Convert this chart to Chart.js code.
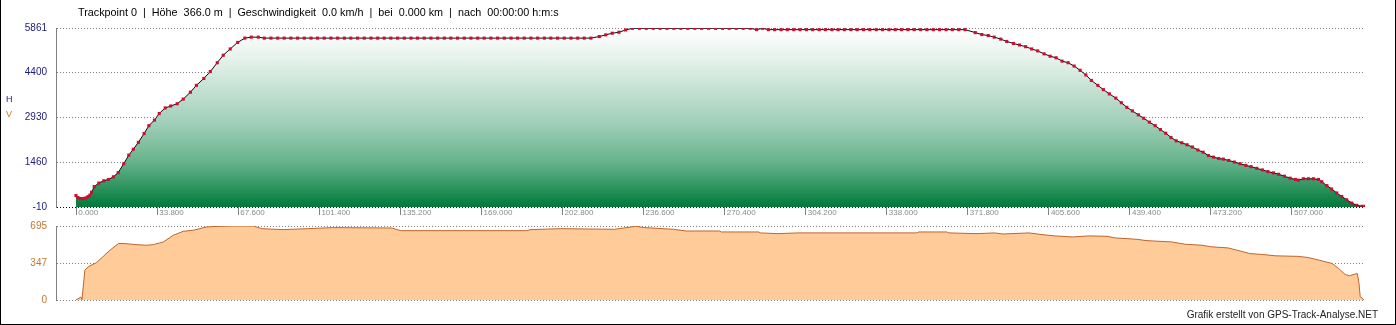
<!DOCTYPE html>
<html>
<head>
<meta charset="utf-8">
<script src="https://cdn.jsdelivr.net/npm/chart.js@4.4.0/dist/chart.umd.min.js"></script>
<style>
body { margin: 0; background: #fff; }
#rahmen { position: relative; width: 1396px; height: 325px; overflow: hidden; }
#hoehe { position: absolute; left: 0; top: 0; }
#tempo { position: absolute; left: 0; top: 210px; }
#kante { position: absolute; left: 0; top: 0; width: 1396px; height: 325px; box-sizing: border-box;
         border: 1px solid #000; border-top: none; pointer-events: none; }
</style>
</head>
<body>
<div id="rahmen">
  <canvas id="hoehe" width="1396" height="222"></canvas>
  <canvas id="tempo" width="1396" height="115"></canvas>
  <div id="kante"></div>
</div>
<script>
// Hoehenprofil: Distanz (km) und Hoehe (m) je Trackpoint
var hoeheKm = [
  0, 0.8, 1.7, 2.5, 3.3, 4.2, 5.0, 5.8,
  6.5, 7.6, 9.5, 11.6, 13.5, 15.6, 17.6, 19.9, 22.0, 23.9,
  26.0, 28.4, 30.4, 32.7, 34.7, 37.2, 39.5, 42.2, 44.7, 47.7,
  50.2, 53.3, 56.0, 58.9, 61.4, 64.3, 67.4, 70.4, 73.1, 76.0, 78.5,
  81.3, 84.1, 86.8, 89.6, 92.4, 95.2, 98.0, 100.7, 103.5, 106.3,
  109.1, 111.9, 114.6, 117.4, 120.2, 123.0, 125.8, 128.5, 131.3, 134.1,
  136.9, 139.7, 142.4, 145.2, 148.0, 150.8, 153.6, 156.3, 159.1, 161.9,
  164.7, 167.5, 170.2, 173.0, 175.8, 178.6, 181.4, 184.1, 186.9, 189.7,
  192.5, 195.3, 198.0, 200.8, 203.6, 206.4, 209.2, 211.9, 214.7,
  218.2, 220.9, 223.6, 226.4, 229.2, 232.0,
  234.9, 237.8, 240.7, 243.6, 246.4, 249.3, 252.2, 255.1, 258.0, 260.9,
  263.8, 266.7, 269.6, 272.4, 275.3, 278.2, 281.1,
  283.8, 286.3, 288.7,
  291.3, 294.0, 296.6, 299.3, 301.9, 304.6, 307.2, 309.9, 312.5, 315.2,
  317.8, 320.4, 323.1, 325.7, 328.4, 331.0, 333.7, 336.3, 339.0, 341.6,
  344.2, 346.9, 349.5, 352.2, 354.8, 357.5, 360.1, 362.8, 365.4, 368.1, 370.7,
  375.0, 377.7, 380.4, 382.9, 385.6, 388.1, 390.9, 393.4, 396.0, 398.5,
  401.0, 403.7, 406.2, 408.7, 411.2, 413.7, 416.2, 418.7, 421.1, 423.4,
  426.1, 428.4, 430.9, 433.6, 435.9, 438.2, 440.5, 443.0, 445.2, 447.6,
  450.0, 452.2, 454.4, 456.6, 458.8, 461.1, 463.3, 465.5, 467.8, 470.0,
  472.2, 474.3, 476.5, 478.4, 480.7, 483.0, 485.4, 487.8, 490.0, 492.4,
  494.7, 497.0, 499.3, 501.5, 503.9, 506.3, 508.5, 509.7, 511.8, 513.9,
  516.0, 518.1, 519.5, 521.6, 523.6, 525.7, 527.8, 529.9, 532.0, 534.1,
  536.2, 537.5
];
var hoeheM = [
  366, 300, 270, 265, 270, 290, 330, 380,
  474, 658, 774, 851, 893, 980, 1119, 1409, 1690, 1884,
  2110, 2400, 2658, 2839, 3055, 3239, 3303, 3377, 3529, 3755,
  3980, 4206, 4432, 4722, 4968, 5174, 5387, 5529, 5561, 5561, 5529,
  5529, 5529, 5529, 5529, 5529, 5529, 5529, 5529, 5529, 5529,
  5529, 5529, 5529, 5529, 5529, 5529, 5529, 5529, 5529, 5529,
  5529, 5529, 5529, 5529, 5529, 5529, 5529, 5529, 5529, 5529,
  5529, 5529, 5529, 5529, 5529, 5529, 5529, 5529, 5529, 5529,
  5529, 5529, 5529, 5529, 5529, 5529, 5529, 5529, 5529,
  5581, 5636, 5690, 5722, 5797, 5851,
  5851, 5851, 5851, 5851, 5851, 5851, 5851, 5851, 5851, 5851,
  5851, 5851, 5851, 5851, 5851, 5851, 5851,
  5807, 5851, 5807,
  5807, 5807, 5807, 5807, 5807, 5807, 5807, 5807, 5807, 5807,
  5807, 5807, 5807, 5807, 5807, 5807, 5807, 5807, 5807, 5807,
  5807, 5807, 5807, 5807, 5807, 5807, 5807, 5807, 5807, 5807, 5807,
  5710, 5646, 5613, 5561, 5497, 5420, 5355, 5303, 5248, 5174,
  5110, 5013, 4936, 4884, 4774, 4722, 4613, 4474, 4322, 4142,
  3980, 3839, 3700, 3561, 3410, 3258, 3142, 3013, 2903, 2774,
  2658, 2529, 2410, 2271, 2161, 2097, 2032, 1958, 1861, 1787,
  1677, 1626, 1580, 1561, 1516, 1464, 1409, 1355, 1313, 1258,
  1206, 1151, 1109, 1064, 1000, 935, 893, 871, 916, 916,
  916, 893, 819, 690, 580, 451, 335, 226, 119, 45,
  13, 13
];

// Geschwindigkeitsprofil: Distanz (km) und Geschwindigkeit (km/h)
var tempoKm = [
  0, 2.0, 2.5, 3.7, 5.1, 8.6, 14.2, 17.7, 20.4, 25.0,
  29.5, 32.2, 36.4, 40.6, 44.7, 48.9, 54.5, 60.0, 65.6, 74.0,
  77.5, 86.3, 96.8, 107.3, 131.8, 135.3, 187.9, 189.7, 201.9, 224.7,
  233.4, 237.0, 249.2, 254.5, 268.4, 269.2, 284.6, 285.5, 292.7, 300.8,
  350.5, 351.4, 363.1, 364.0, 375.7, 383.0, 386.6, 397.4, 402.8, 408.2,
  415.5, 422.7, 429.9, 433.5, 442.5, 446.2, 457.0, 462.4, 469.6, 473.2,
  480.4, 484.1, 489.5, 494.9, 500.3, 509.4, 513.8, 518.4, 523.8, 526.5,
  529.2, 531.0, 534.3, 535.0, 535.5, 536.4, 537.0
];
var tempoKmh = [
  0, 28, 5, 280, 312, 352, 468, 530, 530, 520,
  514, 520, 545, 608, 645, 655, 686, 692, 695, 695,
  670, 661, 670, 680, 676, 651, 651, 661, 670, 664,
  692, 680, 664, 648, 648, 639, 639, 630, 623, 630,
  630, 639, 639, 630, 623, 630, 620, 630, 614, 602,
  592, 602, 598, 583, 570, 558, 545, 524, 514, 500,
  489, 468, 436, 427, 415, 410, 399, 374, 343, 296,
  240, 228, 249, 156, 31, 16, 0
];

var kmTicks = [0, 33.8, 67.6, 101.4, 135.2, 169, 202.8, 236.6, 270.4, 304.2, 338, 371.8, 405.6, 439.4, 473.2, 507];
var hoeheTicks = [-10, 1460, 2930, 4400, 5861];
var tempoTicks = [0, 347, 695];

var titelText = 'Trackpoint 0  |  Höhe  366.0 m  |  Geschwindigkeit  0.0 km/h  |  bei  0.000 km  |  nach  00:00:00 h:m:s';
var fussText = 'Grafik erstellt von GPS-Track-Analyse.NET';

Chart.defaults.font.family = "'Liberation Sans', Arial, sans-serif";

function gruen(ctx) {
  var a = ctx.chart.chartArea;
  if (!a) return '#a0cfb8';
  var g = ctx.chart.ctx.createLinearGradient(0, a.top, 0, a.bottom);
  g.addColorStop(0, '#ffffff');
  g.addColorStop(0.17, '#e6f2ec');
  g.addColorStop(0.53, '#a0cfb8');
  g.addColorStop(0.75, '#66b38c');
  g.addColorStop(1, '#007a3a');
  return g;
}

var beschriftung = {
  id: 'beschriftung',
  afterDraw: function(chart) {
    var c = chart.ctx;
    c.save();
    c.textBaseline = 'middle';
    c.font = "10.8px 'Liberation Sans'";
    c.fillStyle = '#000';
    c.fillText(titelText, 78, 13);
    c.font = "9px 'Liberation Sans'";
    c.fillStyle = '#202080';
    c.fillText('H', 6, 100);
    c.fillStyle = '#c87828';
    c.fillText('V', 6, 115);
    c.restore();
  }
};

var fusszeile = {
  id: 'fusszeile',
  afterDraw: function(chart) {
    var c = chart.ctx;
    c.save();
    c.textBaseline = 'middle';
    c.textAlign = 'right';
    c.font = "10px 'Liberation Sans'";
    c.fillStyle = '#222';
    c.fillText(fussText, 1378, 105);
    c.restore();
  }
};

new Chart(document.getElementById('hoehe'), {
  type: 'line',
  data: {
    datasets: [{
      data: hoeheKm.map(function(k, i) { return { x: k, y: hoeheM[i] }; }),
      borderColor: '#1a0010',
      borderWidth: 1,
      tension: 0,
      pointStyle: 'rect',
      pointRadius: 2.2,
      pointBorderWidth: 0,
      pointBackgroundColor: '#c8102e',
      fill: 'start',
      backgroundColor: gruen
    }]
  },
  options: {
    responsive: false,
    animation: false,
    layout: { autoPadding: false, padding: { left: 0, right: 31, top: 28, bottom: 0 } },
    plugins: { legend: { display: false }, tooltip: { enabled: false } },
    scales: {
      x: {
        type: 'linear', min: -8.34, max: 537.5,
        afterBuildTicks: function(s) { s.ticks = kmTicks.map(function(v) { return { value: v }; }); },
        afterFit: function(s) { s.height = 12; },
        grid: { drawOnChartArea: false, drawTicks: true, tickLength: 8, tickColor: '#808080', tickWidth: 1 },
        border: { display: false },
        ticks: {
          autoSkip: false, maxRotation: 0, align: 'start', padding: -7,
          color: '#8a8a8a', font: { size: 8 },
          callback: function(v) { return ' ' + v.toFixed(3); }
        }
      },
      y: {
        min: -10, max: 5861,
        afterBuildTicks: function(s) { s.ticks = hoeheTicks.map(function(v) { return { value: v }; }); },
        afterFit: function(s) { s.width = 56; },
        grid: {
          drawTicks: false,
          color: function(c) { return c.tick && c.tick.value === -10 ? '#000080' : '#808080'; }
        },
        border: { color: '#808080', dash: [1, 2] },
        ticks: { color: '#202080', font: { size: 10 }, padding: 9, callback: function(v) { return String(v); } }
      }
    }
  },
  plugins: [beschriftung]
});

new Chart(document.getElementById('tempo'), {
  type: 'line',
  data: {
    datasets: [{
      data: tempoKm.map(function(k, i) { return { x: k, y: tempoKmh[i] }; }),
      borderColor: '#c0642a',
      borderWidth: 1,
      tension: 0,
      pointRadius: 0,
      fill: 'start',
      backgroundColor: '#ffcc99'
    }]
  },
  options: {
    responsive: false,
    animation: false,
    layout: { autoPadding: false, padding: { left: 0, right: 31, top: 16, bottom: 25 } },
    plugins: { legend: { display: false }, tooltip: { enabled: false } },
    scales: {
      x: { type: 'linear', min: -8.34, max: 537.5, display: false },
      y: {
        min: 0, max: 695,
        afterBuildTicks: function(s) { s.ticks = tempoTicks.map(function(v) { return { value: v }; }); },
        afterFit: function(s) { s.width = 56; },
        grid: { drawTicks: false, color: '#808080' },
        border: { color: '#808080', dash: [1, 2] },
        ticks: { color: '#c07830', font: { size: 10 }, padding: 9, callback: function(v) { return String(v); } }
      }
    }
  },
  plugins: [fusszeile]
});
</script>
</body>
</html>
